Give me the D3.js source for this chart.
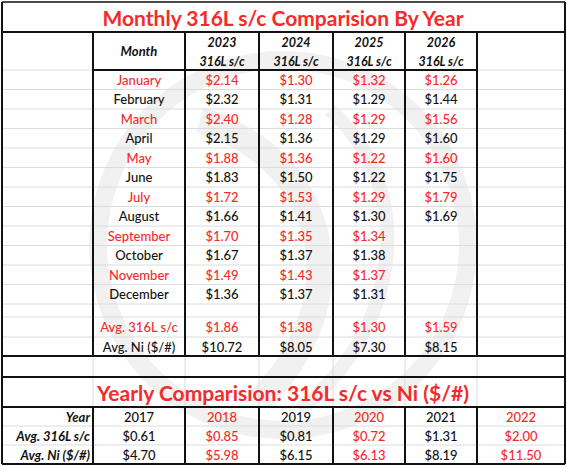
<!DOCTYPE html><html><head><meta charset="utf-8">
<script src="https://cdn.jsdelivr.net/npm/d3@7"></script>
<style>body{margin:0;background:#fff}</style></head><body><svg id="c" width="567" height="467"></svg>
<script>
const months=["January","February","March","April","May","June","July","August","September","October","November","December"];
const years=["2023","2024","2025","2026"];
const v2023=["$2.14","$2.32","$2.40","$2.15","$1.88","$1.83","$1.72","$1.66","$1.70","$1.67","$1.49","$1.36"];
const v2024=["$1.30","$1.31","$1.28","$1.36","$1.36","$1.50","$1.53","$1.41","$1.35","$1.37","$1.43","$1.37"];
const v2025=["$1.32","$1.29","$1.29","$1.29","$1.22","$1.22","$1.29","$1.30","$1.34","$1.38","$1.37","$1.31"];
const v2026=["$1.26","$1.44","$1.56","$1.60","$1.60","$1.75","$1.79","$1.69","","","",""];
const avg316=["$1.86","$1.38","$1.30","$1.59"];
const avgNi=["$10.72","$8.05","$7.30","$8.15"];
const yYears=["2017","2018","2019","2020","2021","2022"];
const yAvg316=["$0.61","$0.85","$0.81","$0.72","$1.31","$2.00"];
const yAvgNi=["$4.70","$5.98","$6.15","$6.13","$8.19","$11.50"];

const RED="#f52a2a",F="Lato, 'Open Sans', sans-serif";
const svg=d3.select("#c");
const wm=svg.append("g").attr("fill","none").attr("stroke","#f1f1f1");
wm.append("circle").attr("cx",283).attr("cy",245).attr("r",185).attr("stroke-width",18);
wm.append("path").attr("d","M200,120 C330,160 360,300 260,400").attr("stroke-width",26);
wm.append("path").attr("d","M330,110 C420,190 400,330 300,410").attr("stroke-width",14);

const colX=[2,93,185,259,333,405,477,565];
const rowEdges=[70];
for(let i=0;i<12;i++)rowEdges.push(70+(i+1)*19.5);
rowEdges.push(317,337,356);
const bot=[356,377,407,426,445,464];
const g=svg.append("g");
[...rowEdges,...bot].forEach(y=>g.append("line").attr("x1",2).attr("x2",565).attr("y1",y).attr("y2",y).attr("stroke","#dcdcdc"));
colX.forEach(xx=>g.append("line").attr("x1",xx).attr("x2",xx).attr("y1",31).attr("y2",464).attr("stroke","#dcdcdc"));
const L=(x1,y1,x2,y2,w)=>g.append("line").attr("x1",x1).attr("y1",y1).attr("x2",x2).attr("y2",y2).attr("stroke","#111").attr("stroke-width",w||2);
L(2,2,565,2,1.5);L(2,2,2,464);L(565,2,565,464);L(2,464,565,464);
L(2,32,565,32);L(2,356,565,356);L(2,377,565,377);L(2,407,565,407);
[1,2,3,4,5,6].forEach(i=>L(colX[i],32,colX[i],356));
L(93,70,477,70);
[1,2,3,4,5,6].forEach(i=>L(colX[i],407,colX[i],464));
const T=(t,xx,y,o)=>{o=o||{};g.append("text").attr("x",xx).attr("y",y).attr("text-anchor",o.a||"middle").attr("dominant-baseline","central").attr("font-family",F).attr("font-size",o.s||13).attr("font-weight",o.b?"bold":"500").attr("font-style",o.i?"italic":"normal").attr("fill",o.c||"#111").text(t);};
T("Monthly 316L s/c Comparision By Year",283,17,{s:21,b:1,c:RED});
T("Month",139,51,{b:1,i:1});
years.forEach((yy,j)=>{const cx=(colX[j+2]+colX[j+3])/2;T(yy,cx,42,{i:1,b:1,s:12.5});T("316L s/c",cx,61,{i:1,b:1,s:12.5});});
const cols=[v2023,v2024,v2025,v2026];
months.forEach((m,i)=>{const cy=(rowEdges[i]+rowEdges[i+1])/2;const c=i%2==0?RED:"#111";T(m,139,cy,{c});cols.forEach((arr,j)=>T(arr[i],(colX[j+2]+colX[j+3])/2,cy,{c}));});
T("Avg. 316L s/c",139,327,{c:RED});T("Avg. Ni ($/#)",139,347);
avg316.forEach((v,j)=>T(v,(colX[j+2]+colX[j+3])/2,327,{c:RED}));
avgNi.forEach((v,j)=>T(v,(colX[j+2]+colX[j+3])/2,347));
T("Yearly Comparision: 316L s/c vs Ni ($/#)",283,392,{s:21,b:1,c:RED});
const labs=["Year","Avg. 316L s/c","Avg. Ni ($/#)"];const rows=[yYears,yAvg316,yAvgNi];
rows.forEach((arr,r)=>{const cy=(bot[r+2]+bot[r+3])/2;T(labs[r],90,cy,{a:"end",b:1,i:1});arr.forEach((v,j)=>T(v,(colX[j+1]+colX[j+2])/2,cy,{c:j%2==1?RED:"#111"}));});
</script></body></html>
